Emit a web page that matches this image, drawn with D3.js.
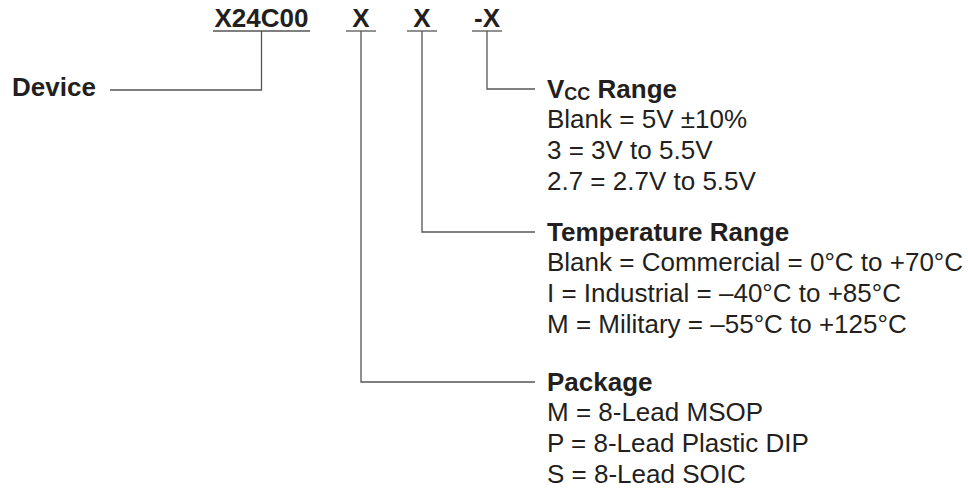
<!DOCTYPE html>
<html>
<head>
<meta charset="utf-8">
<script src="https://cdn.jsdelivr.net/npm/d3@7"></script>
<style>
  body { margin: 0; background: #fff; }
  text { font-family: "Liberation Sans", Arial, Helvetica, sans-serif; fill: #231f20; }
</style>
</head>
<body>
<svg id="chart"></svg>
<script>
// Part number fields
const codes = ["X24C00", "X", "X", "-X"];
const fieldNames = ["Device", "Package", "Temperature Range", "VCC Range"];
const vccOptions = ["Blank = 5V \u00b110%", "3 = 3V to 5.5V", "2.7 = 2.7V to 5.5V"];
const tempOptions = [
	"Blank = Commercial = 0\u00b0C to +70\u00b0C",
	"I = Industrial = \u201340\u00b0C to +85\u00b0C",
	"M = Military = \u201355\u00b0C to +125\u00b0C"
];
const packageOptions = ["M = 8-Lead MSOP", "P = 8-Lead Plastic DIP", "S = 8-Lead SOIC"];

const width = 968;
const height = 489;
const fontSize = 26;
const lineColor = "#555";

const svg = d3.select("#chart")
	.attr("width", width)
	.attr("height", height);

// horizontal place of each code character and the row of each field
const xCode = d3.scaleOrdinal().domain(d3.range(codes.length)).range([261.5, 361, 422, 487]);
const underlineW = d3.scaleOrdinal().domain(d3.range(codes.length)).range([97, 30, 30, 30]);
const yField = d3.scaleOrdinal().domain(fieldNames).range([90, 382, 232, 89]);
const underlineY = 31;
const textX = 547;
const lineEnd = 535;
const lineStep = 31;

// code characters and their underlines
const codeG = svg.selectAll(".code")
	.data(codes)
	.enter()
	.append("g")
	.attr("class", "code")
	.attr("transform", (d, i) => `translate(${xCode(i)},0)`);

codeG.append("text")
	.attr("y", 27)
	.attr("text-anchor", "middle")
	.style("font-size", fontSize + "px")
	.style("font-weight", "bold")
	.text(d => d);

codeG.append("line")
	.attr("x1", (d, i) => -underlineW(i) / 2)
	.attr("x2", (d, i) => underlineW(i) / 2)
	.attr("y1", underlineY)
	.attr("y2", underlineY)
	.attr("stroke", lineColor)
	.attr("stroke-width", 1.3);

// leader lines: code index -> field
const leaders = fieldNames.map((f, i) => ({ field: f, idx: i }));
svg.selectAll(".leader")
	.data(leaders)
	.enter()
	.append("path")
	.attr("class", "leader")
	.attr("fill", "none")
	.attr("stroke", lineColor)
	.attr("stroke-width", 1.3)
	.attr("d", d => {
		const x = xCode(d.idx);
		const y = yField(d.field);
		const xe = d.idx === 0 ? 110 : lineEnd;
		return `M${x},${underlineY}V${y}H${xe}`;
	});

// Device label
svg.append("text")
	.attr("x", 12)
	.attr("y", 96)
	.style("font-size", fontSize + "px")
	.style("font-weight", "bold")
	.text(fieldNames[0]);

// option blocks
const blocks = [
	{ field: "VCC Range", options: vccOptions },
	{ field: "Temperature Range", options: tempOptions },
	{ field: "Package", options: packageOptions }
];

blocks.forEach(b => {
	const y0 = yField(b.field) + 8.5;
	const head = svg.append("text")
		.attr("x", textX)
		.attr("y", y0)
		.style("font-size", fontSize + "px")
		.style("font-weight", "bold");
	if (b.field === "VCC Range") {
		head.append("tspan").text("V");
		head.append("tspan").attr("dy", 2).style("font-size", "18px").text("CC");
		head.append("tspan").attr("dy", -2).text(" Range");
	} else {
		head.text(b.field);
	}
	svg.selectAll(null)
		.data(b.options)
		.enter()
		.append("text")
		.attr("x", textX)
		.attr("y", (d, i) => y0 + 30 + i * lineStep)
		.style("font-size", fontSize + "px")
		.text(d => d);
});
</script>
</body>
</html>
